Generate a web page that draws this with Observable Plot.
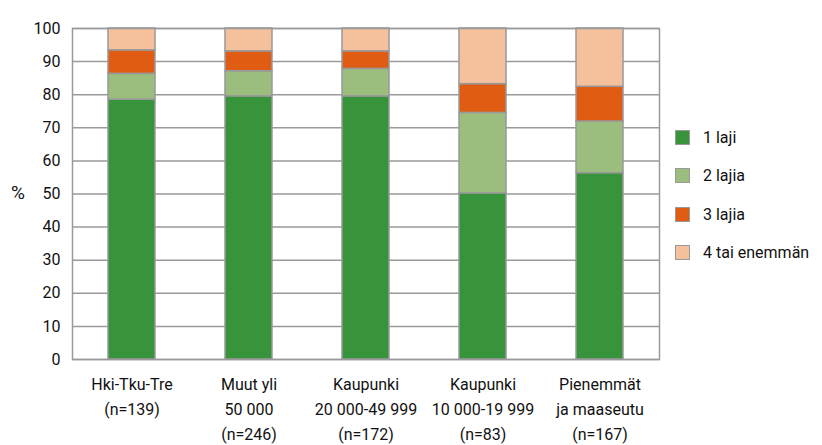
<!DOCTYPE html>
<html>
<head>
<meta charset="utf-8">
<script src="https://cdn.jsdelivr.net/npm/d3@7"></script>
<script src="https://cdn.jsdelivr.net/npm/@observablehq/plot@0.6"></script>
<style>
  html, body { margin: 0; padding: 0; background: #fff; }
  #wrap { position: relative; width: 822px; height: 445px; font-family: Roboto, "Noto Sans", sans-serif; color: #111; }
  #pct { position: absolute; left: 11px; top: 180px; font-size: 19px; line-height: 26px; }
  #legend { position: absolute; left: 675px; top: 118px; }
  .item { display: flex; align-items: center; height: 38.5px; font-size: 16px; white-space: nowrap; }
  .sw { width: 13px; height: 13px; border: 1px solid #999; margin-right: 13px; box-sizing: content-box; }
</style>
</head>
<body>
<div id="wrap">
  <div id="chart"></div>
  <div id="pct">%</div>
  <div id="legend"></div>
</div>
<script>
const categories = [
  "Hki-Tku-Tre\n(n=139)",
  "Muut yli\n50 000\n(n=246)",
  "Kaupunki\n20 000-49 999\n(n=172)",
  "Kaupunki\n10 000-19 999\n(n=83)",
  "Pienemmät\nja maaseutu\n(n=167)"
];
const series = ["1 laji", "2 lajia", "3 lajia", "4 tai enemmän"];
const laji1 = [78.5, 79.5, 79.5, 50.2, 56.3];
const laji2 = [7.8, 7.6, 8.3, 24.3, 15.6];
const laji3 = [7.1, 6.0, 5.3, 8.7, 10.5];
const laji4 = [6.6, 6.9, 6.9, 16.8, 17.6];
const yTicks = [0, 10, 20, 30, 40, 50, 60, 70, 80, 90, 100];
const colors = ["#37943a", "#9bbd7e", "#e05c12", "#f5c19d"];

const valuesBySeries = [laji1, laji2, laji3, laji4];
const data = [];
series.forEach((s, si) => {
  categories.forEach((c, ci) => {
    data.push({ category: c, series: s, value: valuesBySeries[si][ci] });
  });
});

const chart = Plot.plot({
  width: 822,
  height: 445,
  marginLeft: 72,
  marginRight: 163,
  marginTop: 28,
  marginBottom: 86,
  style: { fontFamily: 'Roboto, "Noto Sans", sans-serif', fontSize: "16px", color: "#111", background: "#fff", overflow: "visible" },
  x: { domain: categories, paddingInner: 0.6, paddingOuter: 0.3, label: null },
  y: { domain: [0, 100], ticks: yTicks, label: null },
  color: { domain: series, range: colors },
  marks: [
    Plot.gridY(yTicks, { stroke: "#9a9a9a", strokeOpacity: 1, strokeWidth: 1.5 }),
    Plot.barY(data, { x: "category", y: "value", fill: "series", order: series, stroke: "#999", strokeWidth: 1.5 }),
    Plot.frame({ stroke: "#9a9a9a", strokeWidth: 1.5 }),
    Plot.axisY(yTicks, { tickSize: 0, tickPadding: 12, fontSize: 16, label: null }),
    Plot.axisX({ tickSize: 0, tickPadding: 13, fontSize: 16, lineHeight: 1.55, label: null })
  ]
});
document.getElementById("chart").appendChild(chart);

const legend = document.getElementById("legend");
series.forEach((s, i) => {
  const it = document.createElement("div");
  it.className = "item";
  const sw = document.createElement("div");
  sw.className = "sw";
  sw.style.background = colors[i];
  const t = document.createElement("span");
  t.textContent = s;
  it.appendChild(sw);
  it.appendChild(t);
  legend.appendChild(it);
});
</script>
</body>
</html>
